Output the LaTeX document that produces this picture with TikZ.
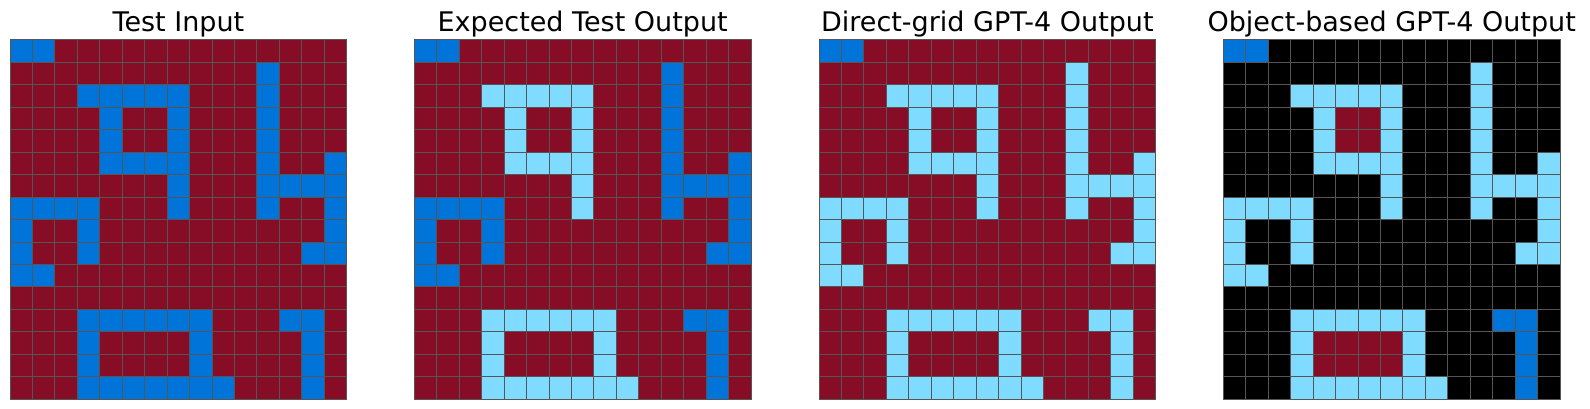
\documentclass[tikz,border=0pt]{standalone}
\usepackage{fontspec}
\setmainfont{DejaVu Sans}
\definecolor{arcred}{RGB}{135,12,37}
\definecolor{arcblue}{RGB}{0,116,217}
\definecolor{arclight}{RGB}{127,219,255}
\definecolor{arcblack}{RGB}{0,0,0}
\definecolor{gridline}{RGB}{85,85,85}
% colour maps per grid: o background, a top-left pair, b "9", c right shape,
% d left shape, e "o" shape, f bottom-right shape, h/i interiors
\colorlet{c1o}{arcred}\colorlet{c1a}{arcblue}\colorlet{c1b}{arcblue}\colorlet{c1c}{arcblue}\colorlet{c1d}{arcblue}\colorlet{c1e}{arcblue}\colorlet{c1f}{arcblue}\colorlet{c1h}{arcred}\colorlet{c1i}{arcred}
\colorlet{c2o}{arcred}\colorlet{c2a}{arcblue}\colorlet{c2b}{arclight}\colorlet{c2c}{arcblue}\colorlet{c2d}{arcblue}\colorlet{c2e}{arclight}\colorlet{c2f}{arcblue}\colorlet{c2h}{arcred}\colorlet{c2i}{arcred}
\colorlet{c3o}{arcred}\colorlet{c3a}{arcblue}\colorlet{c3b}{arclight}\colorlet{c3c}{arclight}\colorlet{c3d}{arclight}\colorlet{c3e}{arclight}\colorlet{c3f}{arclight}\colorlet{c3h}{arcred}\colorlet{c3i}{arcred}
\colorlet{c4o}{arcblack}\colorlet{c4a}{arcblue}\colorlet{c4b}{arclight}\colorlet{c4c}{arclight}\colorlet{c4d}{arclight}\colorlet{c4e}{arclight}\colorlet{c4f}{arcblue}\colorlet{c4h}{arcred}\colorlet{c4i}{arcred}
\tikzset{
  titlestyle/.style={anchor=base, inner sep=0pt, font=\fontsize{27}{32}\selectfont},
  cellstyle/.style={draw=gridline, line width=1pt}
}
\begin{document}
\begin{tikzpicture}[x=1pt,y=1pt]
\useasboundingbox (0,0) rectangle (1590,409);
\def\cs{22.45}
\foreach \g/\xo/\ttl in {1/10/Test Input, 2/414.3/Expected Test Output, 3/819/Direct-grid GPT-4 Output, 4/1223.3/Object-based GPT-4 Output} {
  \node[titlestyle] (title\g) at (\xo+168.4, 377) {\ttl};
  \foreach \row [count=\r from 0] in {
    {a,a,o,o,o,o,o,o,o,o,o,o,o,o,o},
    {o,o,o,o,o,o,o,o,o,o,o,c,o,o,o},
    {o,o,o,b,b,b,b,b,o,o,o,c,o,o,o},
    {o,o,o,o,b,h,h,b,o,o,o,c,o,o,o},
    {o,o,o,o,b,h,h,b,o,o,o,c,o,o,o},
    {o,o,o,o,b,b,b,b,o,o,o,c,o,o,c},
    {o,o,o,o,o,o,o,b,o,o,o,c,c,c,c},
    {d,d,d,d,o,o,o,b,o,o,o,c,o,o,c},
    {d,o,o,d,o,o,o,o,o,o,o,o,o,o,c},
    {d,o,o,d,o,o,o,o,o,o,o,o,o,c,c},
    {d,d,o,o,o,o,o,o,o,o,o,o,o,o,o},
    {o,o,o,o,o,o,o,o,o,o,o,o,o,o,o},
    {o,o,o,e,e,e,e,e,e,o,o,o,f,f,o},
    {o,o,o,e,i,i,i,i,e,o,o,o,o,f,o},
    {o,o,o,e,i,i,i,i,e,o,o,o,o,f,o},
    {o,o,o,e,e,e,e,e,e,e,o,o,o,f,o}} {
    \foreach \ch [count=\c from 0] in \row {
      \edef\cname{c\g\ch}
      \filldraw[cellstyle, fill=\cname] (\xo+\c*\cs, 369-\r*\cs) rectangle ++(\cs,-\cs);
    }
  }
}
\end{tikzpicture}
\end{document}
